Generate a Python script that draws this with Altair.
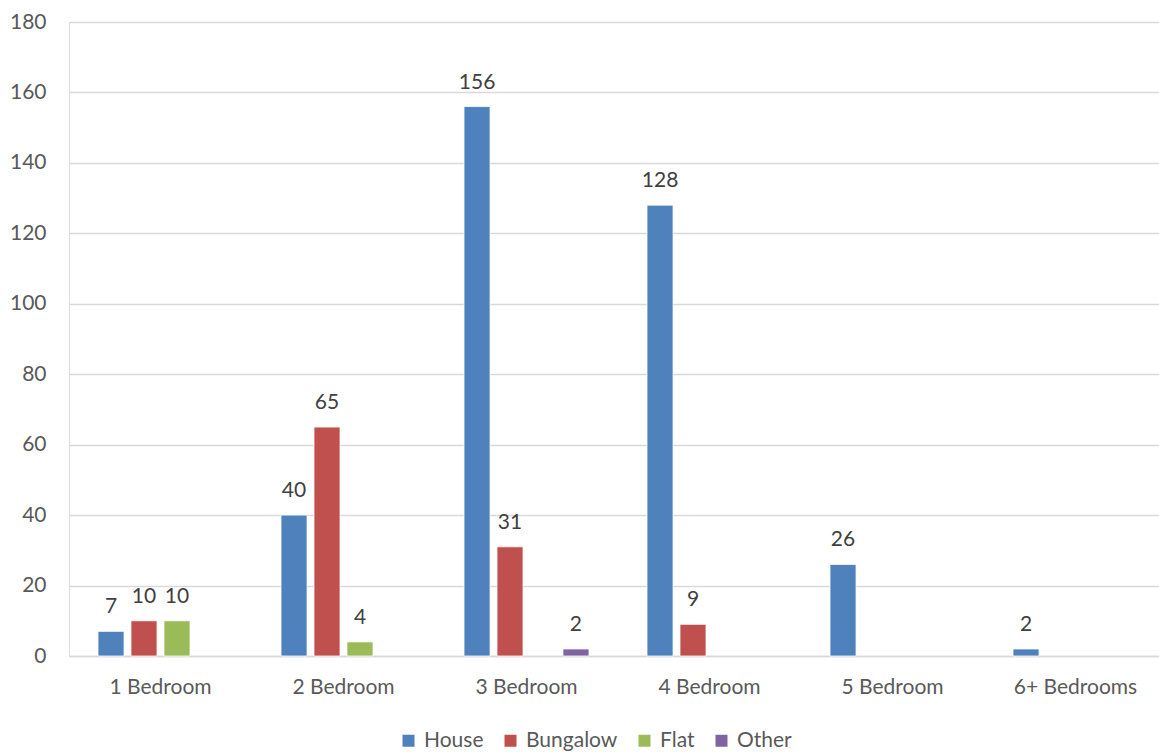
import altair as alt
import pandas as pd

categories = ["1 Bedroom", "2 Bedroom", "3 Bedroom", "4 Bedroom", "5 Bedroom", "6+ Bedrooms"]
series = ["House", "Bungalow", "Flat", "Other"]
colors = ["#4F81BD", "#C0504D", "#9BBB59", "#8064A2"]
house = [7, 40, 156, 128, 26, 2]
bungalow = [10, 65, 31, 9, 0, 0]
flat = [10, 4, 0, 0, 0, 0]
other = [0, 0, 2, 0, 0, 0]

rows = []
for s, vals in zip(series, [house, bungalow, flat, other]):
    for c, v in zip(categories, vals):
        if v:
            rows.append({"cat": c, "type": s, "value": v})
df = pd.DataFrame(rows)

FONT = "Lato"
TXT = "#595959"

x = alt.X("cat:N", sort=categories, title=None,
          scale=alt.Scale(domain=categories, paddingInner=0.317, paddingOuter=0.1585),
          axis=alt.Axis(labelAngle=0, ticks=False, domainColor="#D9D9D9", domainWidth=1.3,
                        labelPadding=20, labelFontSize=21, labelFont=FONT, labelColor=TXT))
xo = alt.XOffset("type:N", sort=series,
                 scale=alt.Scale(domain=series, paddingInner=0.21, paddingOuter=0))
y = alt.Y("value:Q", title=None,
          scale=alt.Scale(domain=[0, 180], nice=False),
          axis=alt.Axis(values=list(range(0, 181, 20)), domain=False, ticks=False,
                        gridColor="#D9D9D9", gridWidth=1.3, labelPadding=23,
                        labelFontSize=21, labelFont=FONT, labelColor=TXT))
color = alt.Color("type:N", sort=series,
                  scale=alt.Scale(domain=series, range=colors),
                  legend=alt.Legend(title=None, orient="none", direction="horizontal",
                                    legendX=329, legendY=708,
                                    symbolType="square", symbolSize=144, symbolStrokeWidth=0,
                                    labelFontSize=21, labelFont=FONT, labelColor=TXT,
                                    columnPadding=16, labelOffset=5))

base = alt.Chart(df)
bars = base.mark_bar(stroke="white", strokeWidth=0.8).encode(x=x, xOffset=xo, y=y, color=color)
labels = base.mark_text(baseline="alphabetic", dy=-18, fontSize=21, font=FONT, color="#404040").encode(
    x=x, xOffset=xo, y=y, text="value:Q")

chart = (bars + labels).properties(
    width=1098, height=634,
    padding={"left": 69, "top": 22, "right": -8, "bottom": 96},
    autosize=alt.AutoSizeParams(type="none"),
).configure_view(stroke=None).configure(background="white")

chart.save("out.html", embed_options={"renderer": "svg", "actions": False})
